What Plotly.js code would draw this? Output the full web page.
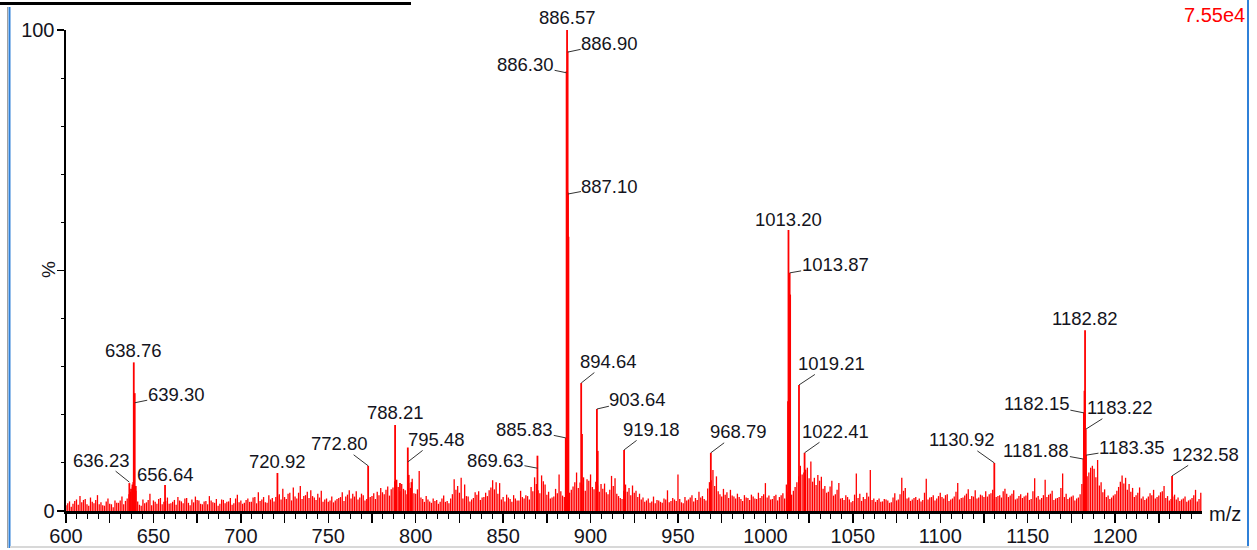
<!DOCTYPE html>
<html>
<head>
<meta charset="utf-8">
<script src="https://cdn.plot.ly/plotly-3.0.1.min.js"></script>
<style>
  html, body { margin: 0; padding: 0; background: #ffffff; }
  #chart { width: 1257px; height: 550px; }
</style>
</head>
<body>
<div id="chart"></div>
<script>
// ---------------- DATA ----------------
// Labelled / major peaks (m/z, relative intensity %)
const peakMz = [636.23, 637.2, 638.0, 638.5, 638.76, 639.30, 639.9, 656.64, 720.92, 772.80,
  788.21, 789.0, 791.0, 795.48, 796.0, 797.6, 869.63, 885.83, 886.30, 886.57,
  886.90, 887.10, 887.35, 894.64, 895.1, 903.64, 904.1, 919.18, 968.79, 1012.95,
  1013.20, 1013.87, 1014.15, 1019.21, 1022.41, 1130.92, 1181.88, 1182.15, 1182.50, 1182.82,
  1183.22, 1183.35, 1232.58];
const peakInt = [5.8, 4.6, 5.5, 6.0, 30.9, 24.5, 5.2, 5.4, 7.9, 9.4,
  17.9, 6.5, 5.8, 13.2, 7.5, 6.0, 11.5, 15.2, 91.5, 100,
  95.6, 66.2, 57.0, 26.6, 16.0, 21.2, 12.5, 12.7, 12.1, 22.8,
  58.4, 49.5, 45.0, 26.2, 12.1, 10.0, 10.8, 20.5, 25.0, 37.6,
  17.0, 11.6, 7.3];

// Background noise sticks on a regular m/z grid (even m/z: spikes)
const noiseStart = 600;
const noiseStep = 2;
const noiseInt = [
  1.2, 2.0, 1.5, 2.4, 3.1, 2.3, 1.4, 2.8, 1.6, 3.3,
  1.8, 1.1, 2.6, 1.4, 2.2, 1.7, 3.0, 2.1, 3.5, 5.0,
  4.2, 1.3, 2.4, 1.8, 3.6, 2.2, 1.5, 2.7, 1.9, 2.8,
  1.6, 2.3, 2.9, 2.0, 2.6, 1.7, 2.4, 3.0, 2.2, 1.4,
  2.1, 3.1, 1.8, 2.5, 1.5, 2.3, 1.9, 2.7, 1.6, 3.4,
  2.2, 1.7, 2.6, 1.9, 2.9, 3.9, 2.4, 1.8, 3.3, 2.7,
  2.9, 3.5, 4.6, 2.5, 3.8, 4.9, 2.6, 5.2, 3.1, 4.0,
  4.3, 2.8, 3.6, 4.2, 2.4, 1.9, 3.0, 2.2, 2.7, 3.9,
  3.0, 4.3, 3.6, 4.1, 2.8, 3.3, 2.5, 2.9, 3.7, 4.0,
  4.8, 3.5, 5.1, 4.5, 6.2, 5.0, 5.6, 4.3, 5.8, 6.7,
  3.6, 8.3, 2.5, 3.1, 2.0, 2.6, 2.3, 1.9, 3.2, 2.1,
  2.6, 6.6, 5.2, 6.9, 5.5, 3.0, 2.4, 3.9, 4.1, 2.8,
  3.8, 4.3, 6.4, 6.0, 5.8, 2.9, 3.4, 2.5, 3.3, 2.2,
  4.2, 2.6, 3.1, 5.0, 7.0, 4.3, 7.4, 5.5, 4.0, 2.8,
  4.6, 7.6, 3.2, 2.4, 3.8, 5.1, 8.0, 5.9, 7.0, 6.6,
  7.6, 4.5, 5.3, 5.6, 5.7, 3.5, 7.3, 6.8, 3.1, 2.5,
  5.5, 4.8, 5.3, 4.2, 3.6, 2.8, 2.2, 1.7, 3.0, 2.3,
  1.9, 2.6, 4.3, 2.1, 2.4, 7.6, 1.8, 2.9, 2.4, 3.3,
  2.7, 4.0, 3.1, 2.2, 6.0, 8.5, 7.2, 3.5, 4.6, 3.9,
  4.4, 3.0, 3.6, 2.5, 3.3, 2.7, 3.4, 2.6, 3.8, 3.1,
  5.8, 3.2, 2.5, 3.4, 2.9, 3.7, 5.5, 3.1, 4.2, 6.0,
  9.4, 8.0, 9.0, 10.3, 6.9, 7.5, 7.1, 5.2, 4.0, 6.3,
  3.5, 5.8, 2.7, 3.3, 2.4, 2.1, 7.8, 3.6, 2.9, 3.8,
  8.5, 2.6, 2.3, 1.9, 2.5, 2.2, 1.8, 3.7, 2.4, 6.9,
  4.8, 2.8, 2.4, 2.9, 2.6, 2.3, 6.7, 2.8, 3.3, 2.6,
  3.8, 2.6, 3.5, 2.4, 3.0, 5.8, 2.7, 3.2, 4.5, 3.1,
  4.3, 2.8, 3.2, 4.1, 3.5, 4.4, 2.9, 3.3, 4.1, 3.6,
  3.2, 4.3, 2.6, 3.5, 3.0, 3.8, 2.5, 6.8, 3.1, 2.7,
  6.5, 3.4, 4.2, 2.6, 2.9, 7.8, 3.6, 2.8, 3.2, 2.6,
  3.5, 4.0, 7.2, 9.0, 8.8, 10.6, 6.0, 4.5, 3.2, 2.8,
  3.5, 5.0, 7.4, 6.9, 5.6, 4.8, 3.3, 4.9, 3.0, 2.6,
  3.7, 4.4, 2.9, 3.9, 5.2, 3.1, 2.5, 3.4, 2.8, 2.4,
  3.0, 2.2, 2.7, 4.4, 2.5
];

// Background floor sticks (odd m/z: 601 … 1249)
const floorStart = 601;
const floorStep = 2;
const floorInt = [
  1.6, 0.9, 2.1, 1.3, 1.8, 2.5, 1.1, 1.9, 2.3, 1.4,
  1.2, 2.0, 1.5, 0.8, 1.7, 2.2, 1.4, 2.6, 4.0, 5.5,
  2.0, 1.1, 1.6, 2.3, 1.2, 1.9, 2.5, 1.4, 2.1, 1.5,
  1.9, 1.3, 2.2, 1.6, 2.7, 1.2, 1.8, 2.3, 1.5, 2.0,
  1.4, 2.2, 1.7, 1.1, 2.4, 1.6, 2.0, 1.3, 2.6, 1.8,
  1.5, 2.3, 1.9, 2.8, 1.6, 2.1, 2.9, 1.7, 2.4, 2.0,
  3.2, 2.4, 2.9, 3.6, 2.2, 3.0, 3.8, 2.5, 3.3, 2.7,
  3.1, 2.3, 2.8, 1.9, 2.6, 2.2, 1.8, 2.5, 2.9, 2.1,
  3.4, 2.6, 3.0, 2.4, 3.6, 2.2, 2.7, 3.1, 2.5, 3.3,
  3.9, 4.4, 3.2, 4.9, 5.3, 4.1, 4.6, 3.5, 4.8, 3.7,
  4.5, 2.8, 1.9, 2.4, 1.7, 2.1, 1.5, 2.6, 1.9, 1.6,
  3.5, 4.4, 3.8, 2.6, 3.1, 2.0, 2.7, 3.4, 2.3, 2.9,
  3.1, 4.9, 4.5, 3.6, 2.4, 2.0, 2.8, 1.9, 2.6, 2.2,
  2.9, 3.3, 2.4, 4.1, 5.6, 3.7, 6.2, 3.4, 2.6, 3.0,
  3.7, 4.1, 2.9, 2.5, 4.4, 6.0, 4.8, 5.5, 4.2, 6.3,
  5.0, 6.1, 4.0, 4.6, 3.9, 4.4, 5.2, 3.6, 2.7, 4.2,
  4.0, 3.3, 3.8, 2.9, 2.4, 1.9, 2.6, 2.0, 1.6, 2.2,
  1.7, 2.4, 1.8, 2.7, 2.1, 2.5, 1.6, 2.2, 2.8, 2.0,
  2.3, 2.8, 2.5, 4.7, 6.4, 5.2, 4.1, 3.0, 3.4, 2.7,
  3.2, 2.6, 2.9, 2.1, 2.8, 2.3, 3.0, 2.5, 2.7, 3.5,
  2.8, 2.4, 3.1, 2.2, 3.3, 2.6, 4.0, 3.4, 5.0, 7.2,
  7.6, 8.6, 6.8, 6.1, 5.4, 6.3, 4.6, 3.8, 5.1, 3.2,
  4.4, 2.6, 2.3, 2.9, 1.8, 3.4, 2.7, 2.1, 2.5, 3.0,
  2.3, 1.9, 2.6, 2.0, 2.4, 1.7, 2.8, 2.2, 3.5, 4.2,
  2.6, 2.1, 2.7, 2.3, 2.0, 3.8, 2.4, 2.9, 2.2, 3.1,
  2.9, 3.3, 2.1, 2.6, 4.0, 2.4, 2.8, 3.6, 2.5, 3.0,
  2.6, 3.4, 2.9, 3.0, 3.7, 2.5, 3.1, 2.8, 4.6, 2.9,
  3.6, 2.4, 3.1, 2.7, 3.2, 2.3, 4.1, 2.8, 2.4, 3.3,
  2.9, 3.6, 2.3, 2.7, 4.8, 2.9, 2.5, 3.0, 2.2, 2.8,
  5.6, 7.5, 8.0, 9.4, 7.0, 5.3, 3.9, 2.9, 2.5, 3.2,
  4.2, 6.1, 5.7, 4.4, 4.0, 2.9, 3.8, 2.6, 2.3, 3.0,
  3.3, 2.6, 3.2, 4.1, 2.7, 2.2, 3.0, 2.4, 2.1, 2.6,
  1.9, 2.4, 3.3, 2.0, 3.8
];

// Peak labels: text and the intensity where the label (or its leader) meets the peak
const labelText = ['886.57', '886.90', '886.30', '887.10', '638.76', '639.30', '636.23', '656.64',
  '720.92', '772.80', '788.21', '795.48', '869.63', '885.83', '894.64', '903.64', '919.18',
  '968.79', '1013.20', '1013.87', '1019.21', '1022.41', '1130.92', '1182.82', '1182.15',
  '1183.22', '1181.88', '1183.35', '1232.58'];
const labelInt = [100, 95.4, 91.1, 65.9, 30.9, 22.5, 6.0, 5.4,
  7.9, 9.4, 17.9, 10.2, 8.9, 15.2, 26.6, 21.2, 12.7,
  12.1, 58.4, 49.5, 26.2, 12.1, 10.0, 37.6, 20.4,
  17.0, 10.8, 11.6, 7.3];

// Axis tick labels
const xTickVals = [600, 625, 650, 675, 700, 725, 750, 775, 800, 825, 850, 875, 900, 925, 950, 975,
  1000, 1025, 1050, 1075, 1100, 1125, 1150, 1175, 1200, 1225];
const xTickText = ['600', '', '650', '', '700', '', '750', '', '800', '', '850', '', '900', '', '950', '',
  '1000', '', '1050', '', '1100', '', '1150', '', '1200', ''];
const yTickVals = [0, 50, 100];
const yTickText = ['0', '', '100'];
const xUnit = 'm/z';
const yUnit = '%';
const scaleText = '7.55e4';

// ---------------- LAYOUT / STYLE ----------------
const W = 1257, H = 550;
const M = { l: 66, r: 55, t: 30, b: 39 };
const plotW = W - M.l - M.r, plotH = H - M.t - M.b;
const px2paperX = px => (px - M.l) / plotW;
const px2paperY = py => (H - M.b - py) / plotH;

const FONT = 'Liberation Sans, Arial, sans-serif';
const RED = '#ff0000';

// label placement (pixel offsets of text centre from the point on the peak)
const placement = {
  '886.57': { arrow: false, shift: 13 },
  '886.90': { ax: 42, ay: -9 },
  '886.30': { ax: -41, ay: -8.5 },
  '887.10': { ax: 42, ay: -8 },
  '638.76': { arrow: false, shift: 12 },
  '639.30': { ax: 41.5, ay: -8.5 },
  '636.23': { ax: -27.5, ay: -22 },
  '656.64': { arrow: false, shift: 10.5 },
  '720.92': { arrow: false, shift: 11.5 },
  '772.80': { ax: -29, ay: -22 },
  '788.21': { arrow: false, shift: 12 },
  '795.48': { ax: 29, ay: -22.5 },
  '869.63': { ax: -42, ay: -8 },
  '885.83': { ax: -41, ay: -8.5 },
  '894.64': { ax: 27, ay: -21.5 },
  '903.64': { ax: 41, ay: -9.5 },
  '919.18': { ax: 27, ay: -20.5 },
  '968.79': { ax: 28, ay: -21 },
  '1013.20': { arrow: false, shift: 11 },
  '1013.87': { ax: 45.5, ay: -8 },
  '1019.21': { ax: 32.5, ay: -21.5 },
  '1022.41': { ax: 30.5, ay: -21.5 },
  '1130.92': { ax: -32.5, ay: -23 },
  '1182.82': { arrow: false, shift: 11.5 },
  '1182.15': { ax: -47, ay: -9.5 },
  '1183.22': { ax: 34, ay: -21.5 },
  '1181.88': { ax: -47, ay: -8.5 },
  '1183.35': { ax: 46, ay: -7.5 },
  '1232.58': { ax: 33, ay: -21.5 }
};

// stick spectra built from the data arrays
function sticks(xs, ys) {
  const x = [], y = [];
  for (let i = 0; i < xs.length; i++) {
    x.push(xs[i], xs[i], null);
    y.push(0, ys[i], null);
  }
  return { x, y };
}
const noiseMz = noiseInt.map((_, i) => noiseStart + i * noiseStep);
const floorMz = floorInt.map((_, i) => floorStart + i * floorStep);
const nS = sticks(noiseMz, noiseInt);
const fS = sticks(floorMz, floorInt);
const pS = sticks(peakMz, peakInt);

const traces = [
  { type: 'scatter', mode: 'lines', x: fS.x, y: fS.y, connectgaps: false,
    line: { color: RED, width: 1.3 }, hoverinfo: 'skip', showlegend: false },
  { type: 'scatter', mode: 'lines', x: nS.x, y: nS.y, connectgaps: false,
    line: { color: RED, width: 1.3 }, hoverinfo: 'skip', showlegend: false },
  { type: 'scatter', mode: 'lines', x: pS.x, y: pS.y, connectgaps: false,
    line: { color: RED, width: 1.8 }, hoverinfo: 'skip', showlegend: false }
];

const annotations = labelText.map((t, i) => {
  const p = placement[t];
  const base = {
    x: parseFloat(t), y: labelInt[i], xref: 'x', yref: 'y', text: t,
    font: { family: FONT, size: 18.5, color: '#141420' }
  };
  if (p.arrow === false) {
    return Object.assign(base, { showarrow: false, yshift: p.shift, xanchor: 'center', yanchor: 'middle' });
  }
  return Object.assign(base, {
    showarrow: true, ax: p.ax, ay: p.ay, axref: 'pixel', ayref: 'pixel',
    arrowhead: 0, arrowwidth: 1, arrowcolor: '#333333', standoff: 0, startstandoff: 0,
    borderpad: 0
  });
});

// unit / scale texts
annotations.push({
  xref: 'paper', yref: 'paper', x: px2paperX(48.5), y: px2paperY(269.5),
  text: yUnit, textangle: -90, showarrow: false, xanchor: 'center', yanchor: 'middle',
  font: { family: FONT, size: 19, color: '#141420' }
});
annotations.push({
  xref: 'paper', yref: 'paper', x: px2paperX(1225), y: px2paperY(513.5),
  text: xUnit, showarrow: false, xanchor: 'center', yanchor: 'middle',
  font: { family: FONT, size: 20, color: '#141420' }
});
annotations.push({
  xref: 'paper', yref: 'paper', x: px2paperX(1214), y: px2paperY(15),
  text: scaleText, showarrow: false, xanchor: 'center', yanchor: 'middle',
  font: { family: FONT, size: 20, color: RED }
});

const shapes = [
  // left window border (grey + blue)
  { type: 'line', xref: 'paper', yref: 'paper', x0: px2paperX(7.5), x1: px2paperX(7.5),
    y0: px2paperY(7), y1: px2paperY(548), line: { color: '#a0a0a0', width: 1 } },
  { type: 'line', xref: 'paper', yref: 'paper', x0: px2paperX(9.5), x1: px2paperX(9.5),
    y0: px2paperY(7), y1: px2paperY(548), line: { color: '#2f80d8', width: 2 } },
  // right window border
  { type: 'line', xref: 'paper', yref: 'paper', x0: px2paperX(1248), x1: px2paperX(1248),
    y0: px2paperY(0), y1: px2paperY(548), line: { color: '#2f80d8', width: 2 } },
  // bottom grey border
  { type: 'line', xref: 'paper', yref: 'paper', x0: px2paperX(10), x1: px2paperX(1249),
    y0: px2paperY(547), y1: px2paperY(547), line: { color: '#d8d8d8', width: 2 } },
  // underline of the cut-off heading
  { type: 'line', xref: 'paper', yref: 'paper', x0: px2paperX(0), x1: px2paperX(411),
    y0: px2paperY(3.5), y1: px2paperY(3.5), line: { color: '#000000', width: 3 } }
];

const layout = {
  width: W, height: H,
  margin: M,
  paper_bgcolor: '#ffffff', plot_bgcolor: '#ffffff',
  showlegend: false,
  xaxis: {
    range: [600, 1249.7], autorange: false, fixedrange: true,
    showgrid: false, zeroline: false,
    showline: true, linecolor: '#000000', linewidth: 2.5,
    ticks: 'outside', ticklen: 9, tickwidth: 1.5, tickcolor: '#000000',
    tickmode: 'array', tickvals: xTickVals, ticktext: xTickText,
    ticklabelstandoff: -4,
    tickfont: { family: FONT, size: 20, color: '#141420' },
    minor: { dtick: 6.25, tick0: 600, ticks: 'outside', ticklen: 5, tickwidth: 1, tickcolor: '#000000', showgrid: false }
  },
  yaxis: {
    range: [0, 100], autorange: false, fixedrange: true,
    showgrid: false, zeroline: false,
    showline: true, linecolor: '#000000', linewidth: 2.5,
    ticks: 'outside', ticklen: 7, tickwidth: 1.2, tickcolor: '#000000',
    tickmode: 'array', tickvals: yTickVals, ticktext: yTickText,
    ticklabelstandoff: -2,
    tickfont: { family: FONT, size: 20, color: '#141420' },
    minor: { dtick: 10, tick0: 0, ticks: 'outside', ticklen: 3, tickwidth: 1, tickcolor: '#000000', showgrid: false }
  },
  annotations: annotations,
  shapes: shapes
};

Plotly.newPlot('chart', traces, layout, { staticPlot: true, displayModeBar: false });
</script>
</body>
</html>
